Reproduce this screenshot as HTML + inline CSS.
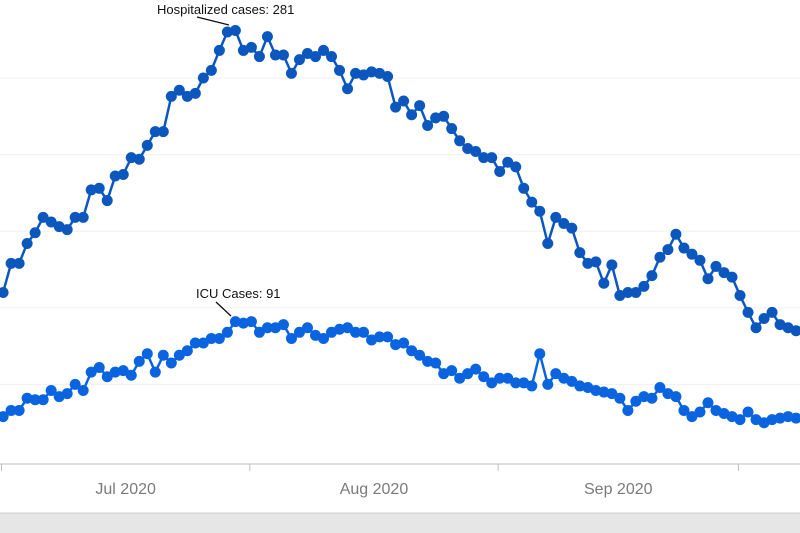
<!DOCTYPE html>
<html><head><meta charset="utf-8"><style>
html,body{margin:0;padding:0;background:#fff;}
svg{display:block;font-family:"Liberation Sans",sans-serif;}
</style></head><body>
<svg id="chart" width="800" height="533" viewBox="0 0 800 533" xmlns="http://www.w3.org/2000/svg">
<g id="grid"></g>
<g id="series"></g>
<g id="xaxis"></g>
<g>
<line x1="197" y1="17" x2="229" y2="25" stroke="#111" stroke-width="1.3"/>
<text x="157" y="14" font-size="13" fill="#111">Hospitalized cases: 281</text>
</g>
<g>
<line x1="216" y1="302" x2="231" y2="316" stroke="#111" stroke-width="1.3"/>
<text x="196" y="298" font-size="13" fill="#111">ICU Cases: 91</text>
</g>
<rect x="0" y="513" width="800" height="20" fill="#e6e6e6"/>
<line x1="0" y1="513" x2="800" y2="513" stroke="#cfcfcf" stroke-width="1"/>
</svg>
<script>
const hospitalized = [110,129,129,142,149,159,156,153,151,159,
159,177,178,170,186,187,198,197,206,215,
215,238,242,238,240,250,255,268,280,281,
268,270,264,277,265,265,253,262,266,264,
268,264,255,243,253,252,254,253,251,231,
235,226,232,219,224,225,217,209,204,202,
198,198,189,195,192,178,169,163,142,159,
155,152,136,129,130,116,128,108,110,110,
114,121,133,138,148,139,135,131,119,127,
123,120,108,97,87,93,97,89,87,85];
const icu = [29,33,33,41,40,40,46,42,44,50,
46,58,61,55,58,59,56,65,70,58,
69,64,69,72,77,77,80,80,84,91,
90,91,84,87,87,89,80,84,87,82,
80,84,86,87,84,84,79,81,81,76,
77,72,69,65,64,57,59,54,57,60,
55,51,54,54,51,51,49,70,50,57,
54,52,49,48,46,45,44,41,33,39,
42,41,48,44,42,33,29,32,38,33,
31,29,27,32,27,25,27,28,29,28];
const gridValues = [50,100,150,200,250];
const tickDays = [0,31,62,92];
const monthLabels = ["Jul 2020","Aug 2020","Sep 2020"];
const monthLabelDays = [15.5,46.5,77];

const NS = "http://www.w3.org/2000/svg";
function xScale(d){ return 1.5 + d*8.01; }
function yScale(v){ return 461 - v*1.532; }
function mk(tag, attrs, parent){
  const e = document.createElementNS(NS, tag);
  for (const k in attrs) e.setAttribute(k, attrs[k]);
  parent.appendChild(e);
  return e;
}
const grid = document.getElementById('grid');
gridValues.forEach(v=>{
  const l = mk('line',{x1:0,x2:800,y1:yScale(v),y2:yScale(v),stroke:'#f0f0f0','stroke-width':1},grid);
  
  
});
const xa = document.getElementById('xaxis');
const axisLine = mk('line',{x1:0,x2:800,y1:464,y2:464,stroke:'#bdbdbd','stroke-width':1},xa);


tickDays.forEach(d=>{
  const t = mk('line',{x1:xScale(d),x2:xScale(d),y1:464,y2:471,stroke:'#bdbdbd','stroke-width':1},xa);
  
  
});
monthLabels.forEach((m,i)=>{
  const t = mk('text',{x:xScale(monthLabelDays[i]),y:494,'text-anchor':'middle','font-size':16,fill:'#7a7a7a'},xa);
  t.textContent = m;
  
  
});
const sg = document.getElementById('series');
function drawSeries(vals, color, name){
  const g = mk('g',{},sg);
  
  
  const pts = vals.map((v,i)=>xScale(i+0.2)+','+yScale(v)).join(' ');
  const pl = mk('polyline',{points:pts,fill:'none',stroke:color,'stroke-width':2.5,'stroke-linejoin':'round'},g);
  
  
  vals.forEach((v,i)=>{
    const c = mk('circle',{cx:xScale(i+0.2),cy:yScale(v),r:5.5,fill:color},g);
    
    
  });
}
drawSeries(icu,'#0a64e0','icu');
drawSeries(hospitalized,'#0b57bd','hospitalized');
</script>
</body></html>
